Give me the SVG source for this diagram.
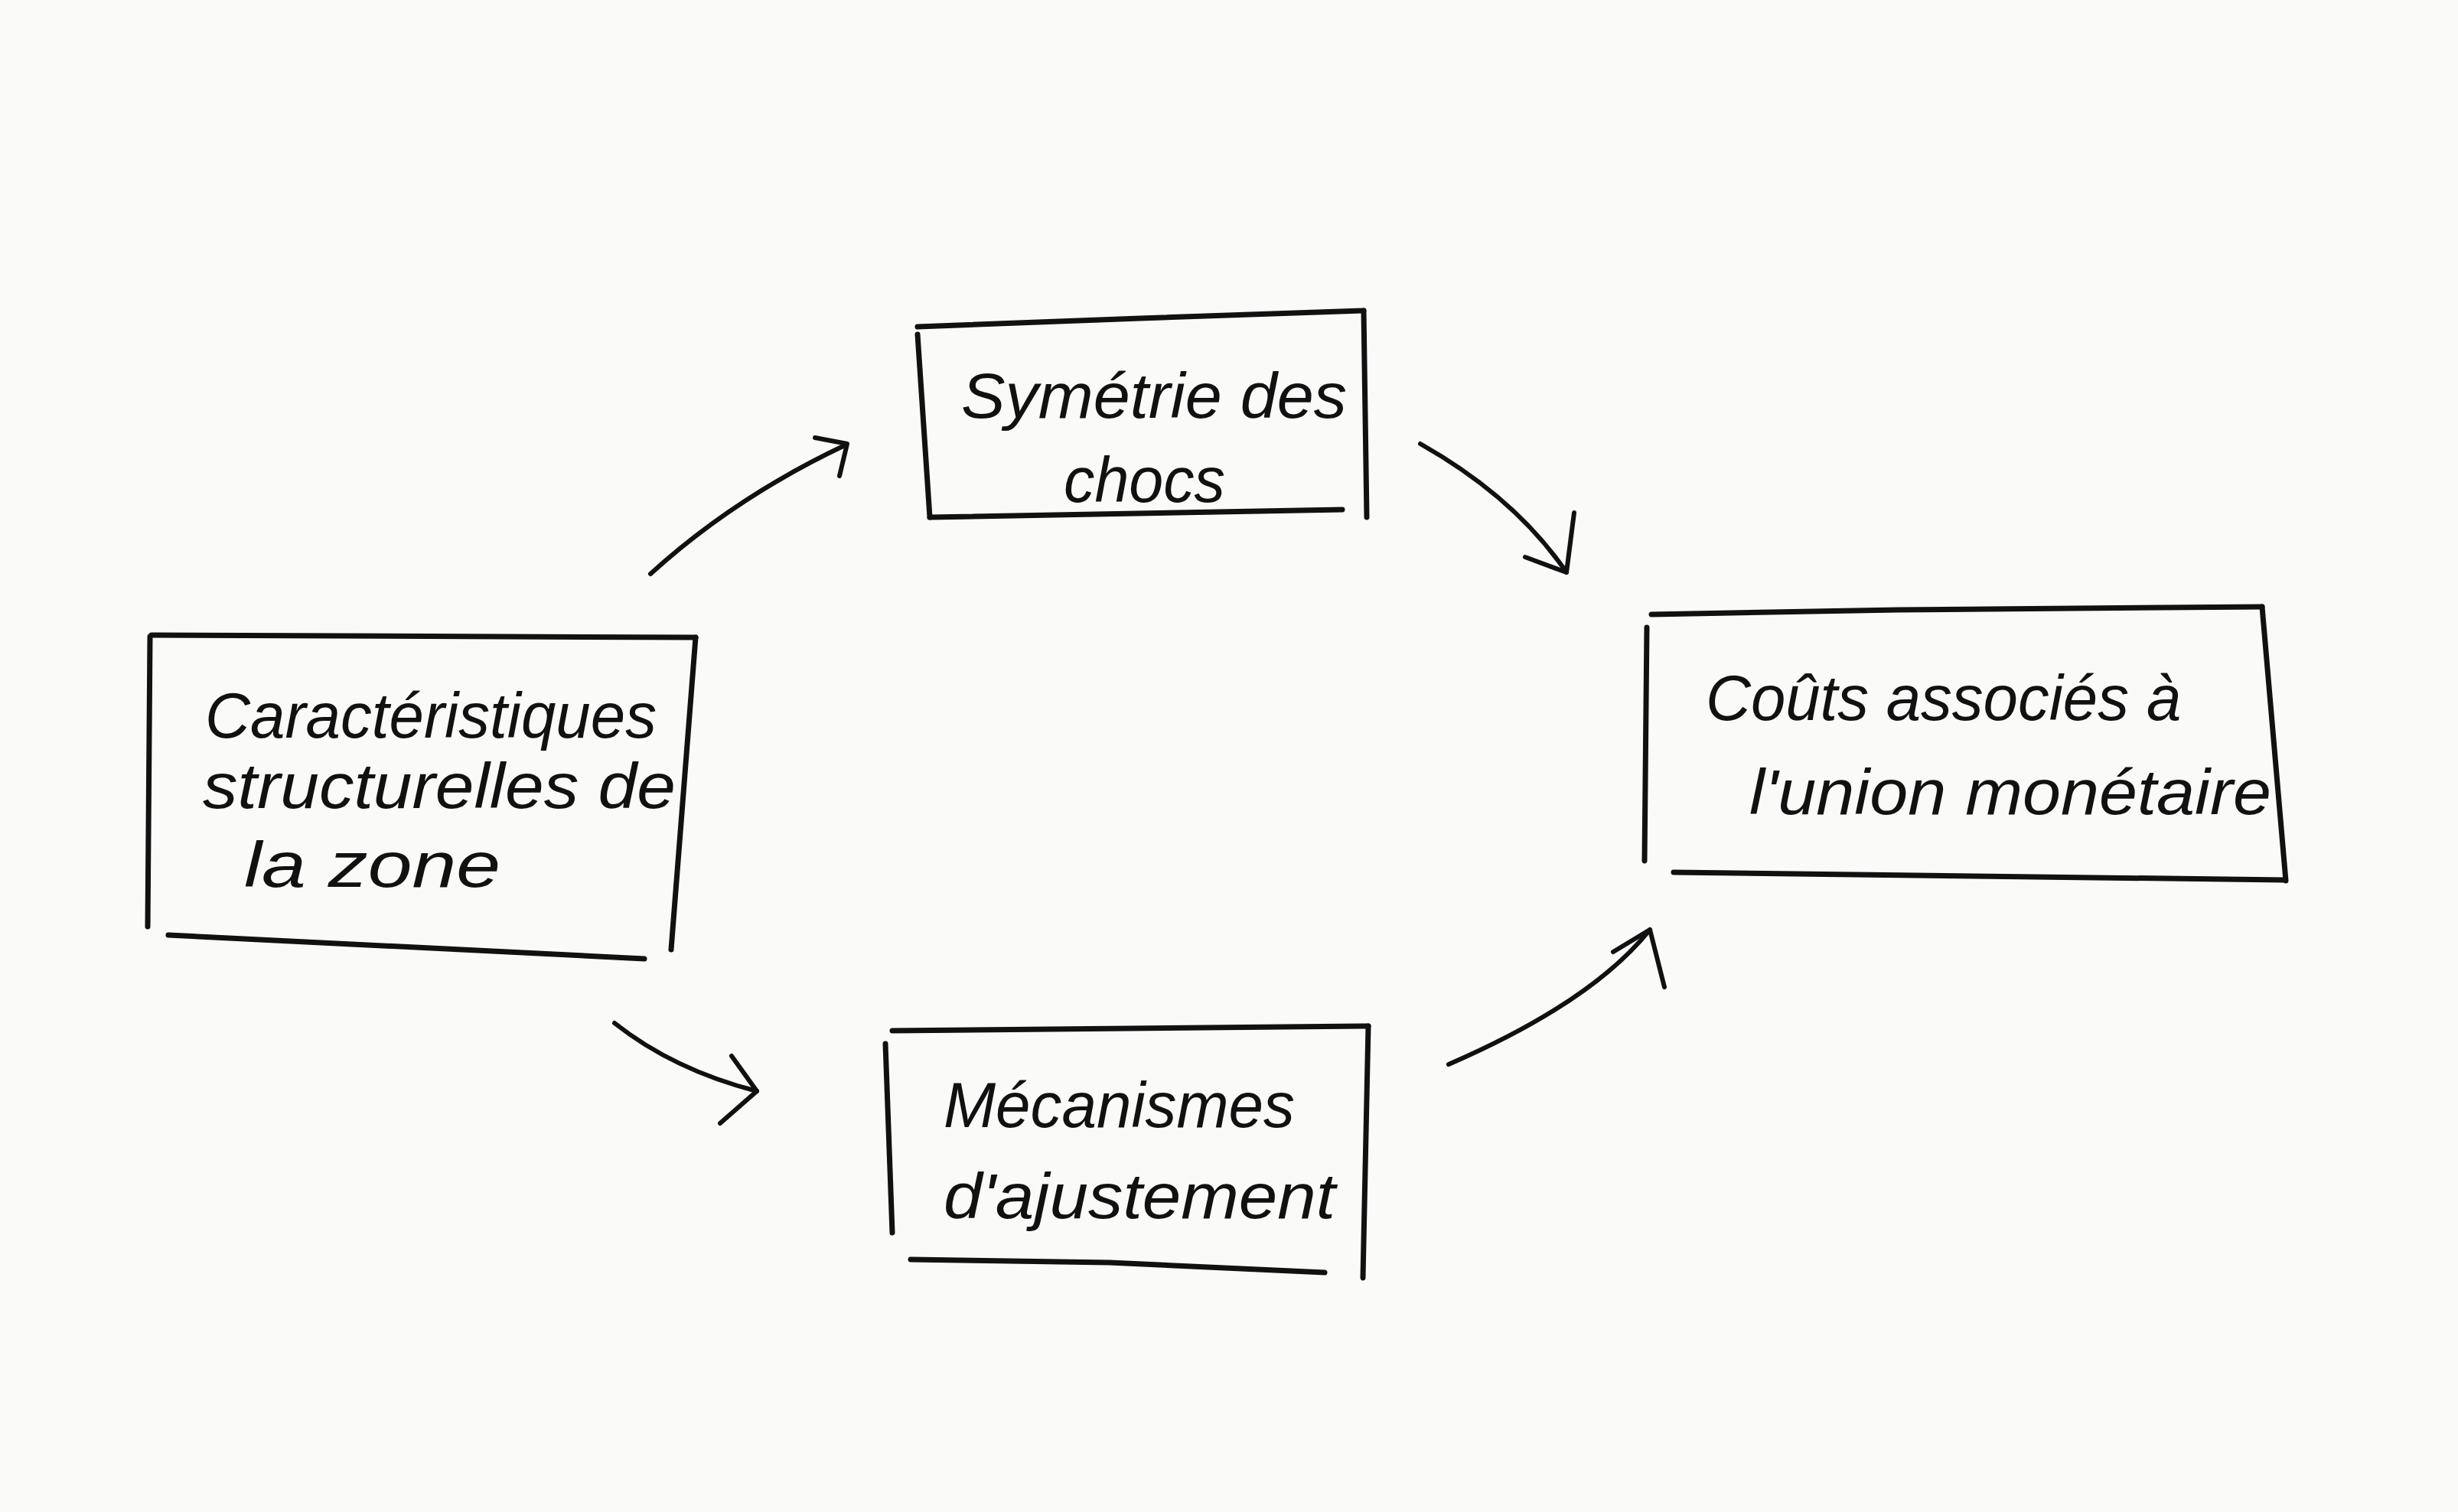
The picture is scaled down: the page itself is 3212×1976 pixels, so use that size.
<svg xmlns="http://www.w3.org/2000/svg" width="3212" height="1976" viewBox="0 0 3212 1976">
<style>
.bg{fill:#fafaf9}
.edge{fill:none;stroke:#111;stroke-width:7;stroke-linecap:round;stroke-linejoin:round}
.conn{fill:none;stroke:#111;stroke-width:6;stroke-linecap:round;stroke-linejoin:round}
.lbl{font-family:"Liberation Sans","DejaVu Sans",sans-serif;font-size:84px;fill:#111;font-style:italic}
</style>
<rect class="bg" x="0" y="0" width="3212" height="1976"/>
<g id="connectors">
  <path class="conn" d="M850,750 Q960,650 1104,582"/>
  <path class="conn" d="M1065,572 L1107,580 L1097,622"/>
  <path class="conn" d="M1856,580 Q1980,650 2047,748"/>
  <path class="conn" d="M1993,728 L2047,748 L2057,670"/>
  <path class="conn" d="M803,1337 Q880,1398 989,1426"/>
  <path class="conn" d="M956,1380 L989,1426 L941,1468"/>
  <path class="conn" d="M1893,1391 Q2080,1310 2156,1215"/>
  <path class="conn" d="M2108,1244 L2156,1215 L2175,1290"/>
</g>
<g id="node-caracteristiques">
  <path class="edge" d="M198,830 L909,833"/>
  <path class="edge" d="M196,832 L193,1211"/>
  <path class="edge" d="M909,833 L877,1241"/>
  <path class="edge" d="M220,1222 L842,1253"/>
  <text class="lbl" x="268" y="964" textLength="590" lengthAdjust="spacingAndGlyphs">Caractéristiques</text>
  <text class="lbl" x="265" y="1056" textLength="618" lengthAdjust="spacingAndGlyphs">structurelles de</text>
  <text class="lbl" x="319" y="1159" textLength="335" lengthAdjust="spacingAndGlyphs">la zone</text>
</g>
<g id="node-symetrie">
  <path class="edge" d="M1199,427 L1490,416 L1782,406"/>
  <path class="edge" d="M1199,437 L1215,676"/>
  <path class="edge" d="M1782,406 L1786,676"/>
  <path class="edge" d="M1215,676 L1754,666"/>
  <text class="lbl" x="1256" y="546" textLength="504" lengthAdjust="spacingAndGlyphs">Symétrie des</text>
  <text class="lbl" x="1390" y="656" textLength="211" lengthAdjust="spacingAndGlyphs">chocs</text>
</g>
<g id="node-couts">
  <path class="edge" d="M2158,803 L2480,797 L2956,793"/>
  <path class="edge" d="M2152,820 L2149,1125"/>
  <path class="edge" d="M2956,793 L2987,1151"/>
  <path class="edge" d="M2187,1140 L2984,1150"/>
  <text class="lbl" x="2229" y="941" textLength="621" lengthAdjust="spacingAndGlyphs">Coûts associés à</text>
  <text class="lbl" x="2286" y="1064" textLength="682" lengthAdjust="spacingAndGlyphs">l'union monétaire</text>
</g>
<g id="node-mecanismes">
  <path class="edge" d="M1166,1347 L1788,1341"/>
  <path class="edge" d="M1157,1364 L1166,1611"/>
  <path class="edge" d="M1788,1341 L1781,1670"/>
  <path class="edge" d="M1190,1646 L1450,1650 L1731,1663"/>
  <text class="lbl" x="1233" y="1473" textLength="459" lengthAdjust="spacingAndGlyphs">Mécanismes</text>
  <text class="lbl" x="1233" y="1592" textLength="512" lengthAdjust="spacingAndGlyphs">d'ajustement</text>
</g>
</svg>
